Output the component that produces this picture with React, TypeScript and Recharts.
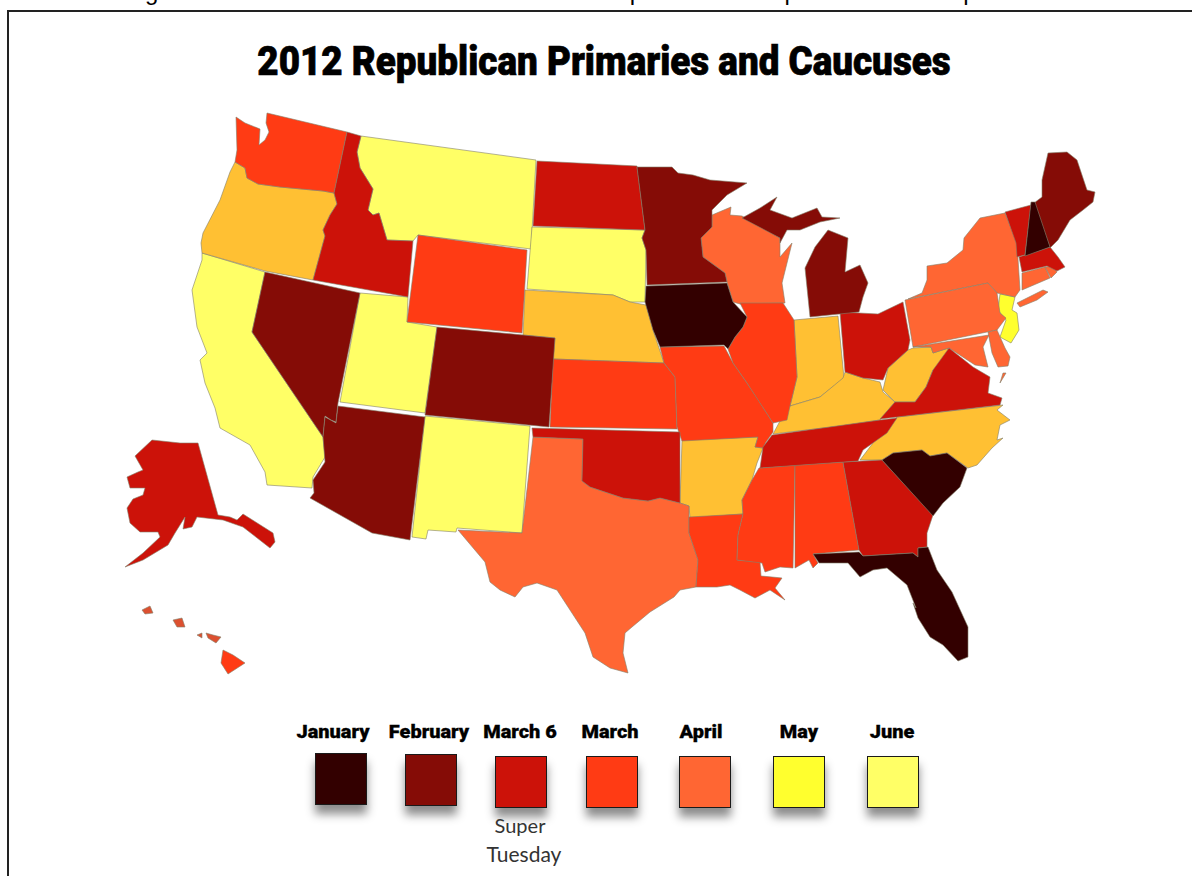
import React from "react";
import { ScatterChart, Scatter, XAxis, YAxis } from "recharts";

type Pt = [number, number];

// state outlines in map units
const WA: Pt[] = [[236,117],[245,123],[260,129],[259,145],[265,140],[269,132],[266,123],[267,113],[347,132],[334,193],[323,191],[280,187],[258,184],[247,178],[245,168],[235,162],[237,150]];
const OR: Pt[] = [[235,162],[245,168],[247,178],[258,184],[280,187],[323,191],[334,193],[337,204],[330,215],[323,230],[325,236],[313,280],[265,271],[202,253],[201,243],[203,233],[220,200],[230,172]];
const ID: Pt[] = [[347,132],[361,136],[357,152],[360,168],[373,189],[368,210],[373,215],[379,213],[387,240],[413,241],[408,297],[313,280],[325,236],[323,230],[330,215],[337,204],[334,193]];
const MT: Pt[] = [[361,136],[536,160],[531,249],[418,235],[413,241],[387,240],[379,213],[373,215],[368,210],[373,189],[360,168],[357,152]];
const WY: Pt[] = [[418,235],[527,250],[522,333],[407,322]];
const NV: Pt[] = [[265,272],[360,293],[338,403],[336,422],[331,420],[325,416],[323,437],[252,332]];
const CA: Pt[] = [[202,253],[265,272],[252,332],[323,437],[325,457],[313,477],[312,488],[267,485],[265,472],[250,445],[220,428],[215,408],[205,383],[200,360],[207,353],[197,327],[192,290],[202,260]];
const UT: Pt[] = [[360,293],[408,297],[407,322],[437,327],[425,413],[340,402]];
const CO: Pt[] = [[437,327],[555,338],[549,427],[425,415]];
const NM: Pt[] = [[425,416],[530,426],[522,533],[457,528],[456,532],[428,530],[426,539],[412,537]];
const AZ: Pt[] = [[338,406],[425,417],[410,540],[372,533],[310,498],[314,493],[313,480],[325,462],[323,437],[325,417],[336,423]];
const TX: Pt[] = [[533,437],[583,439],[582,481],[590,487],[623,498],[648,501],[660,498],[680,503],[689,506],[689,533],[698,560],[696,587],[680,590],[674,597],[650,612],[632,627],[625,633],[623,653],[628,673],[610,668],[593,657],[585,633],[557,590],[537,583],[523,587],[515,597],[500,590],[490,582],[485,562],[458,530],[522,533]];
const OK: Pt[] = [[532,428],[680,432],[680,503],[660,498],[648,501],[623,498],[590,487],[582,481],[583,439],[533,437]];
const KS: Pt[] = [[553,359],[664,363],[675,377],[677,429],[550,427]];
const NE: Pt[] = [[525,290],[613,295],[630,302],[646,305],[653,330],[664,363],[553,359],[555,338],[523,335]];
const SD: Pt[] = [[532,227],[645,230],[642,238],[646,250],[645,302],[630,302],[613,295],[527,289]];
const ND: Pt[] = [[537,161],[637,166],[645,230],[533,226]];
const MN: Pt[] = [[637,167],[672,167],[678,173],[693,175],[710,180],[747,183],[727,195],[712,210],[712,227],[701,238],[703,257],[725,273],[727,282],[647,285],[646,250],[642,238],[645,230]];
const IA: Pt[] = [[646,286],[727,283],[733,302],[747,317],[743,327],[735,337],[728,349],[724,345],[660,347],[653,330],[645,302]];
const MO: Pt[] = [[660,347],[724,346],[733,363],[747,383],[757,398],[773,423],[773,432],[766,442],[763,448],[755,447],[758,437],[682,441],[677,427],[675,377],[664,363]];
const AR: Pt[] = [[682,440],[758,437],[755,447],[763,448],[757,463],[752,480],[742,500],[743,514],[690,518],[689,506],[680,503]];
const LA: Pt[] = [[689,517],[743,514],[738,535],[737,560],[760,562],[761,576],[772,577],[782,578],[775,588],[785,600],[770,590],[755,598],[740,590],[730,585],[717,587],[696,587],[698,560],[689,533]];
const MS: Pt[] = [[759,468],[795,465],[793,568],[780,567],[765,572],[762,563],[737,560],[738,535],[743,514],[742,500],[752,480]];
const AL: Pt[] = [[795,465],[843,462],[859,550],[813,554],[818,563],[813,568],[809,560],[795,568]];
const GA: Pt[] = [[843,462],[882,460],[933,515],[927,533],[927,547],[918,548],[918,557],[913,553],[863,556],[859,550]];
const FL: Pt[] = [[813,554],[859,552],[863,556],[913,553],[918,557],[918,548],[928,547],[937,570],[952,592],[968,627],[968,657],[958,661],[943,645],[930,637],[918,618],[913,603],[916,608],[907,585],[887,568],[873,570],[860,577],[848,563],[830,563],[819,563]];
const SC: Pt[] = [[882,460],[893,453],[922,450],[930,456],[947,453],[967,468],[960,487],[943,503],[933,516]];
const NC: Pt[] = [[860,460],[873,443],[897,417],[1003,405],[997,410],[1010,420],[1000,425],[997,440],[1003,438],[992,448],[977,465],[968,468],[947,453],[930,456],[922,450],[893,453],[882,460]];
const TN: Pt[] = [[772,435],[880,420],[897,418],[887,433],[863,450],[858,461],[760,468],[763,447]];
const KY: Pt[] = [[773,434],[780,421],[790,406],[820,397],[843,378],[845,372],[863,378],[880,382],[883,392],[895,402],[880,420],[840,426]];
const WV: Pt[] = [[883,390],[888,368],[908,350],[913,348],[931,347],[933,353],[948,348],[949,357],[933,370],[926,387],[915,402],[895,402]];
const VA: Pt[] = [[880,419],[895,402],[915,402],[926,387],[933,370],[949,348],[973,367],[990,377],[988,393],[1002,398],[1000,405]];
const OH: Pt[] = [[840,312],[878,314],[903,302],[910,340],[908,350],[888,368],[883,380],[863,378],[845,372]];
const IN: Pt[] = [[794,320],[838,316],[844,378],[820,397],[790,406],[797,377]];
const IL: Pt[] = [[740,303],[783,303],[794,320],[797,377],[790,406],[787,420],[773,423],[747,383],[733,363],[728,349],[735,337],[743,327],[747,317]];
const WI: Pt[] = [[712,215],[731,207],[730,215],[742,216],[780,238],[780,257],[792,243],[782,283],[785,303],[740,304],[733,302],[727,282],[725,273],[703,257],[701,238],[712,227]];
const MI_UPPER: Pt[] = [[742,218],[760,208],[777,197],[770,210],[792,218],[817,208],[822,217],[840,218],[820,222],[800,230],[787,230],[780,243],[780,238]];
const MI_LOWER: Pt[] = [[828,230],[848,238],[845,272],[860,265],[868,283],[863,297],[859,312],[810,317],[805,268],[815,247]];
const PA: Pt[] = [[905,300],[988,283],[997,293],[1000,313],[1006,318],[997,330],[913,347]];
const NY: Pt[] = [[922,293],[927,280],[927,266],[947,263],[963,250],[964,238],[980,218],[1005,213],[1017,243],[1020,290],[1015,297],[997,293],[988,283],[908,299]];
const LONG_ISLAND: Pt[] = [[1017,303],[1043,290],[1048,292],[1037,300],[1020,307]];
const VT: Pt[] = [[1005,212],[1031,205],[1025,255],[1017,257],[1016,243]];
const NH: Pt[] = [[1031,202],[1035,202],[1050,247],[1025,256]];
const ME: Pt[] = [[1034,203],[1042,197],[1042,180],[1048,153],[1067,152],[1077,160],[1087,190],[1095,192],[1093,202],[1083,210],[1070,220],[1058,240],[1050,248]];
const MA: Pt[] = [[1019,257],[1050,247],[1058,257],[1065,267],[1057,271],[1047,266],[1022,272]];
const CT: Pt[] = [[1022,273],[1045,267],[1050,278],[1022,290]];
const RI: Pt[] = [[1045,267],[1053,266],[1057,272],[1051,278]];
const NJ: Pt[] = [[1000,294],[1015,297],[1012,310],[1017,313],[1019,330],[1011,343],[1000,337],[1006,320],[998,310]];
const MD: Pt[] = [[913,347],[989,335],[983,347],[988,367],[975,365],[949,348],[933,353],[931,347]];
const DE: Pt[] = [[988,332],[997,330],[1005,348],[1010,357],[1008,366],[998,367],[992,353]];
const VA_SHORE: Pt[] = [[1003,373],[1006,373],[1000,383]];
const AK: Pt[] = [[135,456],[152,440],[180,443],[198,443],[218,515],[230,517],[237,520],[243,514],[273,533],[275,542],[270,548],[243,527],[223,520],[197,517],[192,527],[183,529],[185,517],[175,533],[168,545],[143,560],[125,567],[143,553],[160,537],[158,532],[140,532],[130,523],[127,508],[133,499],[143,495],[145,488],[130,488],[127,477],[138,472],[143,470]];
const KAUAI: Pt[] = [[142,610],[150,606],[153,613],[145,614]];
const OAHU: Pt[] = [[173,620],[182,618],[185,627],[177,627]];
const MOLOKAI: Pt[] = [[197,635],[202,633],[202,638]];
const MAUI: Pt[] = [[206,633],[213,635],[221,637],[216,643],[208,638]];
const BIG_ISLAND: Pt[] = [[223,650],[233,655],[245,663],[228,674],[221,663]];

const months = ["January", "February", "March 6", "March", "April", "May", "June"];
const monthColors = ["#330000", "#850c06", "#cc1209", "#ff3b14", "#ff6633", "#ffff2e", "#ffff66"];
const mayColor = "#ffc033"; // the amber used on the map
const islandColor = "#dc5030";

const january = [IA, SC, FL, NH];
const february = [NV, CO, AZ, MN, MI_UPPER, MI_LOWER, ME];
const march6 = [ID, ND, OK, GA, TN, VA, OH, VT, MA, AK];
const march = [WA, WY, KS, MO, IL, LA, MS, AL, BIG_ISLAND];
const islands = [KAUAI, OAHU, MOLOKAI, MAUI];
const april = [TX, WI, NY, LONG_ISLAND, PA, MD, DE, CT, RI, VA_SHORE];
const may = [OR, NE, IN, KY, WV, NC, AR];
const mayYellow = [NJ];
const june = [CA, MT, UT, SD, NM];

const groups: [Pt[][], string][] = [
  [june, monthColors[6]],
  [may, mayColor],
  [mayYellow, monthColors[5]],
  [april, monthColors[4]],
  [islands, islandColor],
  [march, monthColors[3]],
  [march6, monthColors[2]],
  [february, monthColors[1]],
  [january, monthColors[0]],
];

const swatchLeft = [315, 405, 495, 586, 679, 773, 867];
const swatchTop = [753, 754, 756, 756, 756, 756, 756];
const labelCenter = [333, 429, 520, 610, 701, 799, 892];

const App = () => {
  return (
    <div style={{ position: "absolute", left: 0, top: 0, width: 1192, height: 876, overflow: "hidden", background: "#fff" }}>
      <div style={{ position: "absolute", left: 125, top: -22, fontFamily: "Liberation Sans", fontSize: 24, lineHeight: "27px", whiteSpace: "nowrap", color: "#000" }}>
        Figure 11: The USA states and the dates of the primaries or republican caucus per location
      </div>
      <div style={{ position: "absolute", left: 7, top: 10, width: 1200, height: 880, borderLeft: "2px solid #222", borderTop: "2px solid #222", boxSizing: "border-box" }} />
      <div style={{ position: "absolute", left: 0, top: 38, width: 1208, textAlign: "center", fontFamily: "Roboto", fontWeight: 900, fontSize: 40, lineHeight: "48px", whiteSpace: "nowrap", color: "#000", WebkitTextStroke: "0.7px #000", transform: "scaleX(0.92)" }}>
        2012 Republican Primaries and Caucuses
      </div>
      <div style={{ position: "absolute", left: 0, top: 0 }}>
        <ScatterChart width={1192} height={876} margin={{ top: 0, right: 0, bottom: 0, left: 0 }}>
          <XAxis type="number" dataKey="x" domain={[0, 1192]} hide />
          <YAxis type="number" dataKey="y" domain={[0, 876]} reversed hide />
          {groups.flatMap(([polys, color], g) =>
            polys.map((poly, i) => (
              <Scatter
                key={g + "-" + i}
                data={[...poly, poly[0]].map(([x, y]) => ({ x, y }))}
                fill={color}
                shape={() => <g />}
                line={{ fill: color, stroke: "#84806a", strokeWidth: 1, strokeOpacity: 0.6 }}
                lineType="joint"
                isAnimationActive={false}
              />
            ))
          )}
        </ScatterChart>
      </div>
      {months.map((m, i) => (
        <React.Fragment key={m}>
          <div style={{ position: "absolute", left: labelCenter[i] - 60, top: 720, width: 120, textAlign: "center", fontFamily: "Roboto", fontWeight: 900, fontSize: 19, lineHeight: "24px", color: "#000", WebkitTextStroke: "0.3px #000", transform: "scaleX(1.05)" }}>
            {m}
          </div>
          <div style={{ position: "absolute", left: swatchLeft[i], top: swatchTop[i], width: 52, height: 52, boxSizing: "border-box", background: monthColors[i], border: "1px solid #1a1a1a", boxShadow: "0 9px 9px rgba(0,0,0,0.45)" }} />
        </React.Fragment>
      ))}
      <div style={{ position: "absolute", left: 460, top: 812, width: 120, textAlign: "center", fontFamily: "Lato", fontSize: 20, lineHeight: "27px", color: "#333" }}>
        Super
      </div>
      <div style={{ position: "absolute", left: 464, top: 840, width: 120, textAlign: "center", fontFamily: "Lato", fontSize: 21, lineHeight: "27px", color: "#333" }}>
        Tuesday
      </div>
    </div>
  );
};

export default App;
